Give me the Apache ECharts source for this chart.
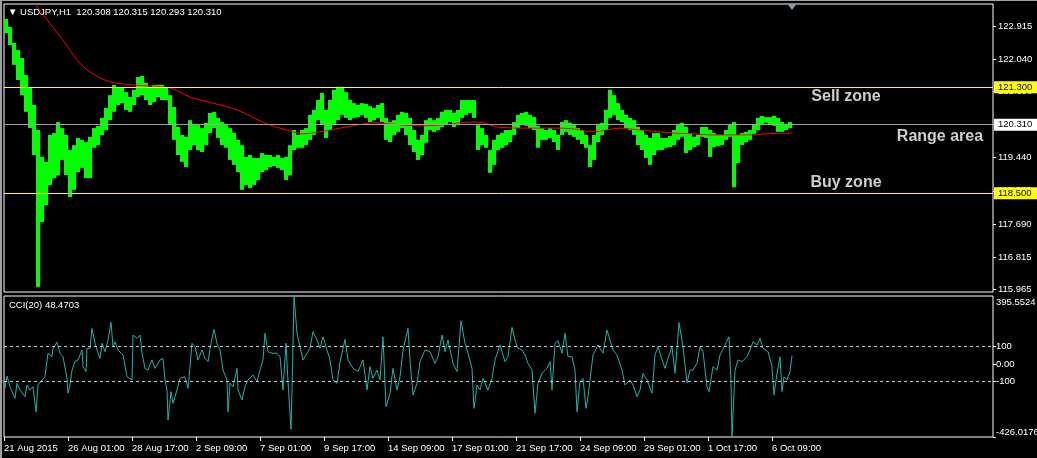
<!DOCTYPE html>
<html><head><meta charset="utf-8">
<script src="https://cdn.jsdelivr.net/npm/echarts@6/dist/echarts.min.js"></script>
<style>
html,body{margin:0;padding:0;background:#000;}
#wrap{position:relative;width:1037px;height:458px;}
#c{width:1037px;height:458px;}
#frame{position:absolute;left:0;top:0;width:1035px;height:457px;border-left:2px solid #a0a0a0;border-top:1px solid #a0a0a0;pointer-events:none;}
</style>
</head><body><div id="wrap"><div id="c"></div><div id="frame"></div></div>
<script>
// ---------- data ----------
const symbolName = 'USDJPY,H1';
const lastOHLC = ['120.308', '120.315', '120.293', '120.310'];
const cciName = 'CCI(20)';
const cciLast = '48.4703';
const BAR_STEP = 4; // each price sample covers 4 hourly bars

const priceHigh = [
123.10,122.89,122.47,122.28,122.07,121.62,121.28,120.83,120.17,119.46,
119.33,120.04,120.09,120.38,120.22,120.04,119.64,119.77,119.96,119.91,
119.85,119.99,120.22,120.28,120.49,120.75,121.09,121.36,121.28,121.28,
121.17,121.04,121.23,121.57,121.60,121.41,121.28,121.36,121.36,121.36,
121.28,121.09,120.78,120.25,120.04,119.99,120.43,120.30,120.30,120.22,
120.36,120.62,120.65,120.49,120.38,120.30,120.22,120.09,119.91,119.77,
119.46,119.51,119.43,119.43,119.56,119.51,119.51,119.46,119.51,119.43,
119.46,119.77,120.17,120.04,120.17,120.22,120.57,120.70,120.96,121.15,
120.70,120.96,121.23,121.31,121.31,121.17,120.96,120.88,120.83,120.88,
120.86,120.80,120.75,120.83,120.88,120.49,120.38,120.43,120.57,120.65,
120.62,120.49,120.17,119.91,120.04,120.43,120.49,120.43,120.49,120.65,
120.70,120.70,120.62,120.70,120.96,120.96,120.96,120.96,120.30,120.22,
120.04,119.64,119.91,120.04,120.09,120.17,120.17,120.38,120.57,120.62,
120.65,120.57,120.51,120.28,120.22,120.17,120.22,120.17,120.04,120.38,
120.43,120.36,120.30,120.22,120.17,120.04,119.77,120.04,120.30,120.36,
120.70,121.23,121.09,120.88,120.70,120.57,120.49,120.43,120.25,120.17,
120.04,119.96,120.09,120.09,119.96,119.96,120.01,120.17,120.30,120.36,
120.25,120.09,119.99,120.04,120.25,120.25,120.17,120.09,120.04,120.04,
120.17,120.30,120.38,120.04,120.09,120.12,120.17,120.33,120.49,120.54,
120.51,120.51,120.54,120.49,120.38,120.33,120.38
];
const priceLow = [
122.73,122.41,121.89,121.49,121.09,120.65,120.22,119.51,116.03,117.74,
118.19,118.72,118.90,118.98,119.38,118.98,118.40,118.59,119.06,119.17,
118.90,118.90,119.70,119.77,120.04,120.17,120.43,120.65,120.83,120.88,
120.70,120.65,120.83,121.04,121.09,120.96,120.83,120.91,121.04,120.96,
120.96,120.30,119.91,119.51,119.33,119.19,119.64,119.77,119.64,119.59,
119.77,120.09,120.22,119.96,119.77,119.70,119.38,119.25,119.06,118.59,
118.72,118.64,118.72,118.85,119.06,119.11,119.19,119.22,119.17,119.11,
118.85,118.98,119.64,119.70,119.70,119.77,119.91,120.04,120.43,120.30,
119.96,120.17,120.30,120.43,120.57,120.49,120.43,120.49,120.51,120.57,
120.49,120.38,120.43,120.49,120.38,119.91,119.85,120.04,120.12,120.22,
120.04,119.77,119.59,119.38,119.51,119.83,120.17,120.12,120.17,120.25,
120.30,120.38,120.25,120.30,120.49,120.57,120.62,120.49,119.64,119.77,
119.70,119.04,119.25,119.64,119.70,119.77,119.85,120.04,120.22,120.30,
120.28,120.22,120.17,119.70,119.91,119.91,119.96,119.85,119.64,120.04,
120.12,120.04,119.99,119.91,119.80,119.70,119.19,119.38,119.85,120.04,
120.17,120.49,120.57,120.43,120.38,120.22,120.17,120.04,119.77,119.64,
119.43,119.25,119.51,119.64,119.64,119.70,119.72,119.77,119.91,119.99,
119.56,119.64,119.72,119.77,119.99,119.96,119.46,119.72,119.75,119.77,
119.91,119.99,118.66,119.30,119.77,119.85,119.91,120.07,120.17,120.33,
120.36,120.30,120.28,120.12,120.12,120.17,120.22
];

const maBars = [31,41,51,61,73,86,106,129,166,186,209,233,263,283,299,316,336,353,369,413,436,469,479,493,523,549,569,589,616,636,669,686,709,743,763,788];
const maValues = [123.50,123.15,122.81,122.47,122.02,121.70,121.44,121.36,121.28,121.04,120.88,120.70,120.33,120.17,120.07,120.12,120.22,120.30,120.36,120.28,120.30,120.38,120.36,120.25,120.22,120.22,120.20,120.12,120.22,120.17,120.09,120.07,120.04,120.04,120.07,120.09];

const cciBars = [1,3,6,11,13,16,21,23,26,29,32,34,38,41,44,48,49,53,56,59,63,64,66,68,71,74,78,79,82,83,86,88,91,93,96,98,101,104,107,109,111,114,119,123,128,129,133,136,138,141,144,148,151,156,159,161,163,164,167,169,173,176,181,184,186,188,191,194,198,201,204,207,210,213,216,219,223,224,226,229,233,234,238,241,244,249,253,256,259,261,264,268,273,276,279,282,284,287,288,290,293,296,299,303,306,309,313,316,319,323,326,329,333,336,341,344,349,354,359,363,366,369,373,376,379,382,386,389,393,396,399,404,406,409,413,416,421,426,431,434,438,441,444,449,453,457,461,464,468,470,473,476,479,484,488,491,496,501,504,508,511,514,518,521,524,528,531,534,538,543,546,548,551,554,558,561,564,568,571,573,576,579,582,584,589,594,599,603,606,609,613,618,621,626,629,633,636,639,643,648,651,654,658,661,664,668,671,675,679,683,686,689,693,696,699,703,705,709,713,716,721,725,727,728,731,734,738,743,746,749,753,756,759,764,768,770,773,776,778,780,783,786,788];
const cciValues = [-142,-71,-133,-201,-113,-152,-191,-123,-152,-133,-279,-123,-94,-75,62,42,91,126,62,42,-84,-171,-123,-36,13,23,81,-16,-45,91,91,207,120,81,32,120,71,139,242,100,129,81,52,-75,-94,168,149,168,62,-26,-36,23,-26,23,32,-94,-152,-327,-162,-230,-152,-84,-75,-142,-16,120,100,23,81,32,13,120,201,120,81,-36,-94,-279,-113,-133,-26,-152,-210,-133,-94,-65,-104,-36,23,178,71,62,62,42,-152,120,-104,-380,-152,395.5524,178,100,23,62,91,188,139,91,158,81,23,-94,-113,10,143,23,-26,-45,23,-152,-16,-84,-36,-94,158,-250,-171,-26,-152,-75,81,207,23,-181,-113,13,81,71,3,42,168,71,139,3,-45,252,120,62,-26,-259,-123,-152,-84,-152,-84,23,110,13,42,213,139,91,81,52,3,-36,-288,-113,-55,-26,13,-152,120,135,62,178,42,42,-36,-279,-104,-84,-259,-191,52,110,62,197,139,81,52,-36,-123,-94,-123,-191,-152,-55,-94,-171,52,100,23,-26,32,100,-55,240,100,-110,-36,-36,3,100,71,-133,-162,-16,-36,52,110,158,-113,-426.0176,-36,23,13,42,81,129,110,149,91,71,-16,-181,-55,42,-162,-75,-94,-45,48.4703];

const priceTickValues = [122.915, 122.040, 121.190, 120.315, 119.440, 118.565, 117.690, 116.815, 115.965];
const levelValues = [121.300, 120.310, 118.500];
const cciTickValues = [395.5524, 100, 0, -100, -426.0176];
const cciTickLabels = ['395.5524', '100', '0.00', '-100', '-426.0176'];
const cciLevels = [100, -100];
const timeTickBars = [0, 64, 128, 192, 256, 320, 384, 448, 512, 576, 640, 704, 768];
const timeTickLabels = ['21 Aug 2015', '26 Aug 01:00', '28 Aug 17:00', '2 Sep 09:00', '7 Sep 01:00', '9 Sep 17:00', '14 Sep 09:00', '17 Sep 01:00', '21 Sep 17:00', '24 Sep 09:00', '29 Sep 01:00', '1 Oct 17:00', '6 Oct 09:00'];
const annotationTexts = ['Sell zone', 'Range area', 'Buy zone'];
const annotationBars = [842, 936, 842];
const annotationPrices = [121.04, 119.99, 118.77];

// axis ranges
const priceMin = 115.894, priceMax = 123.496;
const cciMin = -426.0176, cciMax = 395.5524;
const barMax = 989;

// ---------- chart ----------
const FONT = 'Liberation Sans, Arial, DejaVu Sans, sans-serif';
const chart = echarts.init(document.getElementById('c'), null, {renderer: 'canvas'});

const priceData = priceHigh.map((h, i) => [i * BAR_STEP, priceLow[i], h]);
const maData = maBars.map((b, i) => [b, maValues[i]]);
const cciData = cciBars.map((b, i) => [b, cciValues[i]]);
const annData = annotationTexts.map((t, i) => [annotationBars[i], annotationPrices[i], t]);

const levelStyles = [
  {line: '#ffff00', bg: '#ffff00'},
  {line: '#a0a0a0', bg: '#ffffff'},
  {line: '#ffff00', bg: '#ffff00'}
];

const option = {
  backgroundColor: '#000',
  animation: false,
  textStyle: {fontFamily: FONT},
  title: [
    {text: '\u25BC ' + symbolName + '  ' + lastOHLC.join(' '), left: 8, top: 7, padding: 0,
     textStyle: {color: '#fff', fontSize: 9.5, fontWeight: 'normal', fontFamily: FONT}},
    {text: cciName + ' ' + cciLast, left: 9, top: 300, padding: 0,
     textStyle: {color: '#fff', fontSize: 9.5, fontWeight: 'normal', fontFamily: FONT}}
  ],
  grid: [
    {left: 4, top: 4, width: 989, height: 288, show: true, borderColor: '#fff', borderWidth: 1,
     backgroundColor: 'transparent', containLabel: false, outerBoundsMode: 'none'},
    {left: 4, top: 296, width: 989, height: 141, show: true, borderColor: '#fff', borderWidth: 1,
     backgroundColor: 'transparent', containLabel: false, outerBoundsMode: 'none'}
  ],
  xAxis: [
    {type: 'value', gridIndex: 0, min: 0, max: barMax, show: false},
    {type: 'value', gridIndex: 1, min: 0, max: barMax, position: 'bottom',
     axisLine: {show: false, onZero: false}, splitLine: {show: false},
     axisTick: {show: true, customValues: timeTickBars, length: 4, lineStyle: {color: '#fff'}},
     axisLabel: {show: true, customValues: timeTickBars, showMinLabel: true, showMaxLabel: true,
       formatter: v => timeTickLabels[timeTickBars.indexOf(v)] || '',
       align: 'left', margin: 6, color: '#fff', fontSize: 9.5, fontFamily: FONT}}
  ],
  yAxis: [
    {type: 'value', gridIndex: 0, position: 'right', min: priceMin, max: priceMax,
     axisLine: {show: false, onZero: false}, splitLine: {show: false},
     axisTick: {show: true, customValues: priceTickValues, length: 3, lineStyle: {color: '#fff'}},
     axisLabel: {show: true, customValues: priceTickValues, formatter: v => v.toFixed(3),
       margin: 5, color: '#fff', fontSize: 9.5, fontFamily: FONT, align: 'left'}},
    {type: 'value', gridIndex: 1, position: 'right', min: cciMin, max: cciMax,
     axisLine: {show: false, onZero: false}, splitLine: {show: false},
     axisTick: {show: true, customValues: cciTickValues.slice(1), length: 3, lineStyle: {color: '#fff'}},
     axisLabel: {show: true, customValues: cciTickValues, showMinLabel: true, showMaxLabel: true,
       formatter: v => {
         const k = cciTickValues.findIndex(t => Math.abs(t - v) < 1e-6);
         if (k < 0) return '';
         if (k === 0) return '{top|' + cciTickLabels[k] + '}';
         if (k === cciTickValues.length - 1) return '{bot|' + cciTickLabels[k] + '}';
         return cciTickLabels[k];
       },
       rich: {top: {padding: [12, 0, 0, 0], color: '#fff', fontSize: 9.5, fontFamily: FONT},
              bot: {padding: [0, 0, 10, 0], color: '#fff', fontSize: 9.5, fontFamily: FONT}},
       margin: 3, color: '#fff', fontSize: 9.5, fontFamily: FONT, align: 'left'}}
  ],
  series: [
    {
      name: 'price', type: 'custom', xAxisIndex: 0, yAxisIndex: 0, silent: true, z: 3,
      data: priceData,
      encode: {x: 0, y: [1, 2]},
      renderItem: function (params, api) {
        const b = api.value(0), lo = api.value(1), hi = api.value(2);
        const p1 = api.coord([b, hi]);
        const p2 = api.coord([b + BAR_STEP, lo]);
        return {type: 'rect',
          shape: {x: p1[0], y: p1[1], width: p2[0] - p1[0], height: Math.max(1, p2[1] - p1[1])},
          style: {fill: '#00ff00'}};
      },
      markPoint: {
        silent: true, symbol: 'triangle', symbolRotate: 180, symbolSize: [9, 6], symbolOffset: [0, 3],
        itemStyle: {color: '#8a9aab'}, label: {show: false},
        data: [{coord: [priceData[priceData.length - 1][0] + BAR_STEP, priceMax]}]
      }
    },
    {
      name: 'levels', type: 'line', xAxisIndex: 0, yAxisIndex: 0, data: [], z: 2, silent: true,
      markLine: {
        silent: true, symbol: ['none', 'none'], animation: false,
        data: levelValues.map((v, i) => ({
          yAxis: v,
          lineStyle: {color: levelStyles[i].line, width: 1, type: 'solid'},
          label: {show: true, position: 'end', distance: 1, formatter: v.toFixed(3),
            backgroundColor: levelStyles[i].bg, color: '#000', fontSize: 9.5, fontFamily: FONT,
            padding: [1, 8, 1, 4]}
        }))
      }
    },
    {
      name: 'MA', type: 'line', xAxisIndex: 0, yAxisIndex: 0, data: maData, z: 4,
      showSymbol: false, symbol: 'none', smooth: 0.3, clip: true, silent: true,
      lineStyle: {color: '#ff0000', width: 1}
    },
    {
      name: 'notes', type: 'scatter', xAxisIndex: 0, yAxisIndex: 0, data: annData, z: 5,
      symbolSize: 1, itemStyle: {color: 'rgba(0,0,0,0)'}, silent: true,
      label: {show: true, position: 'inside', formatter: p => p.data[2],
        color: '#fff', fontSize: 16, fontWeight: 'bold', fontFamily: FONT}
    },
    {
      name: 'CCI', type: 'line', xAxisIndex: 1, yAxisIndex: 1, data: cciData, z: 4,
      showSymbol: false, symbol: 'none', silent: true,
      lineStyle: {color: '#20b2aa', width: 1},
      markLine: {
        silent: true, symbol: ['none', 'none'], label: {show: false},
        lineStyle: {color: '#c8c8c8', width: 1, type: [3, 3]},
        data: cciLevels.map(v => ({yAxis: v}))
      }
    }
  ]
};
chart.setOption(option);
</script>
</body></html>
